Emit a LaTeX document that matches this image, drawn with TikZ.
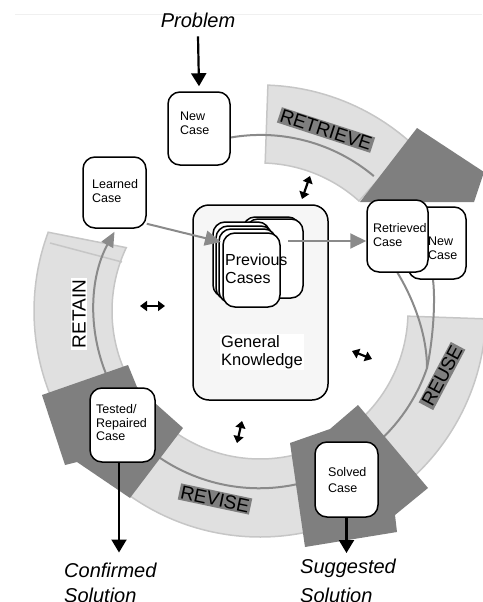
\documentclass[tikz,border=0pt]{standalone}
\usepackage{fontspec}
\setmainfont{Liberation Sans}
\usetikzlibrary{arrows.meta,calc}
\definecolor{bandfill}{HTML}{E0E0E0}
\definecolor{bandedge}{HTML}{C6C6C6}
\definecolor{darkfill}{HTML}{7F7F7F}
\definecolor{pathgray}{HTML}{8A8A8A}
\definecolor{gkfill}{HTML}{F6F6F6}
\pgfdeclarelayer{bandlayer}
\pgfdeclarelayer{linelayer}
\pgfdeclarelayer{darklayer}
\pgfsetlayers{bandlayer,linelayer,darklayer,main}
\begin{document}
\begin{tikzpicture}[x=1pt,y=-1pt,
  band/.style={fill=bandfill,draw=bandedge,line width=1.5pt},
  darkshape/.style={fill=darkfill},
  ringline/.style={draw=pathgray,line width=2pt},
  casebox/.style={draw=black,line width=1.5pt,fill=white,rounded corners=12pt,inner sep=0pt},
  boxtext/.style={font=\fontsize{12.5}{13.8}\selectfont,align=left,inner sep=0pt,anchor=north west},
  phase/.style={font=\fontsize{19}{19}\selectfont,inner sep=1.5pt,fill=darkfill},
  bigtext/.style={font=\fontsize{20}{25}\selectfont\itshape,align=left,inner sep=0pt,anchor=north west},
  blackarrow/.style={line width=2.2pt,-{Triangle[width=15pt,length=13pt]}},
  grayarrow/.style={draw=pathgray,line width=2pt,-{Triangle[width=15pt,length=16pt]}},
  dblarrow/.style={line width=2.2pt,{Triangle[width=10pt,length=7pt]}-{Triangle[width=10pt,length=7pt]}},
]
\useasboundingbox (0,0) rectangle (482,602);
\draw[gray!12,line width=0.8pt] (15,14) -- (482,14);

% ---------- case boxes ----------
\node[casebox,minimum width=62pt,minimum height=73pt] (nc) at (199,128.5) {};
\node[boxtext] (nct) at (180,112) {New\\Case};
\node[casebox,minimum width=63pt,minimum height=71pt] (lc) at (114.5,192.5) {};
\node[boxtext] (lct) at (92,179) {Learned\\Case};
\node[casebox,minimum width=58pt,minimum height=72pt] (nc2) at (437,243) {};
\node[boxtext] (nc2t) at (428,237) {New\\Case};
\node[casebox,minimum width=61pt,minimum height=72pt] (rc) at (397.5,236) {};
\node[boxtext] (rct) at (373,223) {Retrieved\\Case};
\node[casebox,minimum width=65pt,minimum height=74pt] (tb) at (122.5,425) {};
\node[boxtext] (tbt) at (96,404) {Tested/\\Repaired\\Case};
\node[casebox,minimum width=63pt,minimum height=75pt] (sc) at (346.5,479.5) {};
\node[boxtext,font=\fontsize{12.5}{16}\selectfont] (sct) at (328,467) {Solved\\Case};

% ---------- general knowledge ----------
\node[draw=black,line width=1.5pt,fill=gkfill,rounded corners=16pt,minimum width=135pt,minimum height=195pt,inner sep=0pt] (gk) at (260.5,302.5) {};
\node[casebox,minimum width=57pt,minimum height=79pt] (pcA) at (271.5,256.5) {};
\node[casebox,minimum width=57pt,minimum height=79pt] (pcB) at (274.5,258.5) {};
\node[casebox,minimum width=57pt,minimum height=75pt] (pcC) at (241.5,259.5) {};
\node[casebox,minimum width=57pt,minimum height=74pt] (pcD) at (244.5,263) {};
\node[casebox,minimum width=57pt,minimum height=74pt] (pcE) at (247.5,266) {};
\node[casebox,minimum width=57pt,minimum height=74pt] (pc) at (251.5,270) {};
\node[anchor=north west,font=\fontsize{16}{18}\selectfont,align=left,inner sep=0pt] (pct) at (225,253.5) {Previous\\Cases};
\node[anchor=north west,fill=white,inner sep=1.5pt,font=\fontsize{16.5}{17.5}\selectfont,align=left] (gkt) at (219.5,334) {General\\Knowledge};

% ---------- outer texts ----------
\node[font=\fontsize{20}{24}\selectfont\itshape,anchor=base,inner sep=0pt] (problem) at (198,28) {Problem};
\node[bigtext] (confirmed) at (64,562.5) {Confirmed\\Solution};
\node[bigtext,font=\fontsize{20}{28.5}\selectfont\itshape] (suggested) at (300,559) {Suggested\\Solution};

% ---------- phase labels ----------
\node[phase,rotate=-18] (retrieve) at (326,130) {RETRIEVE};
\node[phase,rotate=62] (reuse) at (442,376) {REUSE};
\node[phase,rotate=-12] (revise) at (215,499) {REVISE};
\node[phase,rotate=90,fill=white] (retain) at (79,314) {RETAIN};

% ---------- connectors ----------
\draw[blackarrow] ([yshift=-8pt]problem.south) -- ([yshift=5pt]nc.north);
\draw[blackarrow] ([xshift=-3.5pt]tb.south) -- ([xshift=-3.5pt,yshift=10pt]tb.south |- confirmed.north);
\draw[blackarrow] (sc.south) -- ([yshift=6pt]sc.south |- suggested.north);
\coordinate (pcin) at (221,242);
\coordinate (pcout) at (288,241);
\draw[grayarrow] ([yshift=5pt]lc.south east) -- (pcin);
\draw[grayarrow] (pcout) -- ([yshift=-5pt]rc.west);

\coordinate (d1a) at (310,176); \coordinate (d1b) at (302,199);
\coordinate (d2a) at (352,351); \coordinate (d2b) at (372,359);
\coordinate (d3a) at (242,421); \coordinate (d3b) at (237,443);
\coordinate (d4a) at (140,306); \coordinate (d4b) at (165,306);
\draw[dblarrow] (d1a) -- (d1b);
\draw[dblarrow] (d2a) -- (d2b);
\draw[dblarrow] (d3a) -- (d3b);
\draw[dblarrow] (d4a) -- (d4b);

% ---------- bands ----------
\begin{pgfonlayer}{bandlayer}
\path[band,shift={(260,311)}] (-88:226) arc[start angle=-88,end angle=-48,radius=226] -- (-48:148) arc[start angle=-48,end angle=-88,radius=148] -- cycle;
\path[band,shift={(260,311)}] (2:226) arc[start angle=2,end angle=60,radius=226] -- (60:148) arc[start angle=60,end angle=2,radius=148] -- cycle;
\path[band,shift={(260,311)}] (62:226) arc[start angle=62,end angle=128,radius=226] -- (128:148) arc[start angle=128,end angle=62,radius=148] -- cycle;
\path[band,shift={(260,311)}] (155:226) arc[start angle=155,end angle=200.4,radius=226] -- (205.35:148) arc[start angle=205.35,end angle=155,radius=148] -- cycle;
\draw[draw=bandedge,line width=1.5pt] (50,243) -- (122,262);
\end{pgfonlayer}

% ---------- ring lines ----------
\begin{pgfonlayer}{linelayer}
\draw[ringline] ([yshift=-9pt]nc.east) arc[start angle=-99.8,end angle=-50,radius=176];
\coordinate (mg) at (427,368);
\draw[ringline] (rc.south) .. controls (414,300) and (427,335) .. (mg) arc[start angle=18.85,end angle=50,radius=176.5];
\draw[ringline] ([xshift=-4pt]nc2.south) .. controls (436,305) and (432,345) .. (mg);
\draw[ringline] (sc.west) arc[start angle=71.9,end angle=126,radius=177.2];
\draw[ringline,{Triangle[width=13pt,length=15pt]}-] ([yshift=-3pt]lc.south) arc[start angle=208.8,end angle=155,radius=166];
\end{pgfonlayer}

% ---------- dark arrow shapes ----------
\begin{pgfonlayer}{darklayer}
\fill[darkshape] (360,202) -- (417,128) -- (484,172) -- (474,202) -- cycle;
\fill[darkshape] (42,395) -- (128,365) -- (137,387) -- (183,428) -- (130,498) -- (77,462) -- (65,465) -- cycle;
\fill[darkshape] (290,443) -- (330,429) -- (358,405) -- (428,488) -- (395,515) -- (397,532) -- (305,547) -- cycle;
\end{pgfonlayer}
\end{tikzpicture}
\end{document}
